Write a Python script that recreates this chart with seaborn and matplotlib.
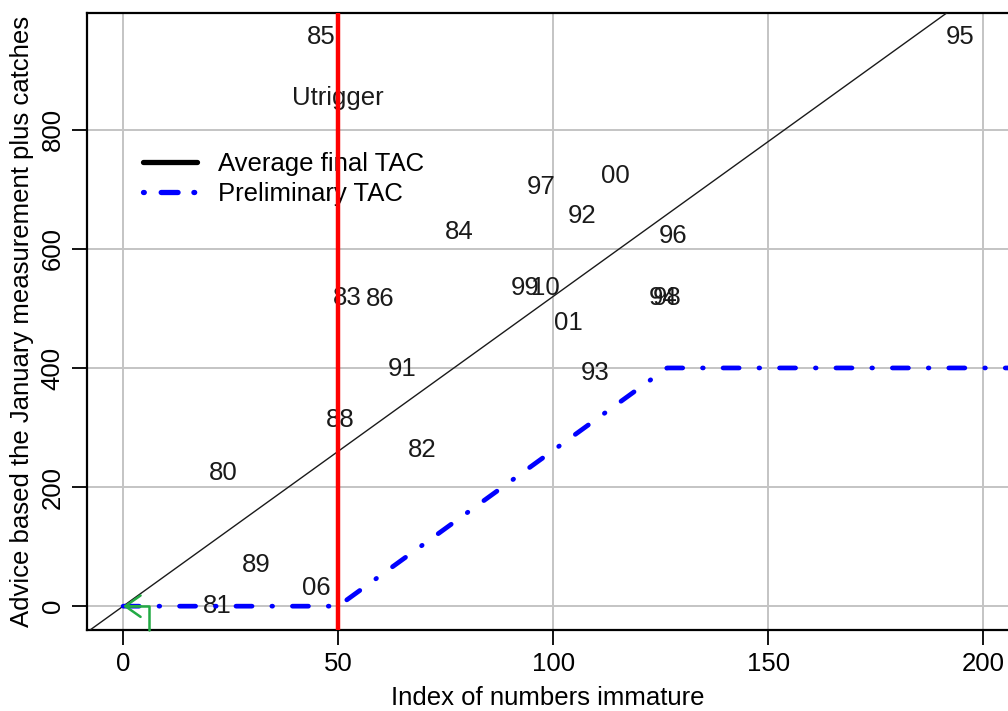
import matplotlib
matplotlib.use("Agg")
import matplotlib.pyplot as plt
import seaborn as sns
import pandas as pd
from matplotlib.lines import Line2D

# ---- data ----
year_labels = ["85", "80", "89", "81", "06", "88", "82", "91", "83", "86", "84",
               "97", "00", "92", "96", "99", "10", "01", "93", "94", "98", "95"]
index_immature = [46.0, 23.3, 30.9, 21.9, 44.9, 50.5, 69.5, 64.9, 52.1, 59.8, 78.1,
                  97.2, 114.4, 106.7, 127.9, 93.4, 98.2, 103.5, 109.8, 125.6, 126.6, 194.7]
advice = [956, 224, 69, 0, 30, 313, 262, 398, 518, 516, 629,
          703, 723, 655, 622, 534, 534, 476, 392, 518, 517, 956]

final_tac_x = [-10, 200]
final_tac_y = [-52, 1040]

prelim_tac_x = [0, 50, 126.5, 210]
prelim_tac_y = [0, 0, 400, 400]

u_trigger = 50
x_ticks = [0, 50, 100, 150, 200]
y_ticks = [0, 200, 400, 600, 800]

FS = 18.5

sns.set_style("white")
plt.rcParams["font.family"] = ["Liberation Sans", "DejaVu Sans"]
plt.rcParams["text.color"] = "black"
plt.rcParams["axes.labelcolor"] = "black"
plt.rcParams["xtick.color"] = "black"
plt.rcParams["ytick.color"] = "black"

fig = plt.figure(figsize=(10.08, 7.11), dpi=100)
ax = fig.add_axes([87 / 1008, 81 / 711, 1 - 87 / 1008, (630 - 13) / 711])

ax.set_xlim(-8.4, 205.8)
ax.set_ylim(-40, 996)

# grid
for xv in x_ticks:
    ax.axvline(xv, color="#c4c4c4", lw=1.4, zorder=0)
for yv in y_ticks:
    ax.axhline(yv, color="#c4c4c4", lw=1.4, zorder=0)

# year labels
for lab, xv, yv in zip(year_labels, index_immature, advice):
    ax.text(xv, yv, lab, ha="center", va="center", fontsize=FS, color="#1a1a1a", zorder=2)
ax.text(50, 854, "Utrigger", ha="center", va="center", fontsize=FS, color="#1a1a1a", zorder=2)

# lines
df_final = pd.DataFrame({"x": final_tac_x, "y": final_tac_y})
sns.lineplot(data=df_final, x="x", y="y", ax=ax, color="#1a1a1a", lw=1.0,
             estimator=None, sort=False, zorder=3)

df_pre = pd.DataFrame({"x": prelim_tac_x, "y": prelim_tac_y})
sns.lineplot(data=df_pre, x="x", y="y", ax=ax, color="#0000ff", lw=3.4,
             estimator=None, sort=False, zorder=4, dashes=False)
pre_line = ax.lines[-1]
pre_line.set_dashes((3.4, 4.2, 0.15, 4.2))
pre_line.set_dash_capstyle("round")

ax.axvline(u_trigger, color="#ff0000", lw=3.2, zorder=10)

# green arrow
ax.plot([6, 6, 0.4], [-40, 0, 0], color="#22aa44", lw=1.8, zorder=6, clip_on=False)
ax.annotate("", xy=(0, 0), xytext=(4, 0),
            arrowprops=dict(arrowstyle="->,head_length=0.5,head_width=0.35",
                            color="#22aa44", lw=1.8,
                            mutation_scale=22, shrinkA=0, shrinkB=0), zorder=6)

# legend
handles = [Line2D([0], [0], color="black", lw=3.8, solid_capstyle="round"),
           Line2D([0], [0], color="#0000ff", lw=3.8, dashes=(0.15, 3.2, 3.2, 3.0),
                  dash_capstyle="round")]
leg = ax.legend(handles, ["Average final TAC", "Preliminary TAC"], loc="upper left",
                bbox_to_anchor=(0.0608, 0.775), frameon=False, fontsize=FS,
                handlelength=2.1, handletextpad=0.8, labelspacing=0.23,
                borderpad=0, borderaxespad=0)
leg.set_zorder(5)

# axes styling
ax.set_xticks(x_ticks)
ax.set_yticks(y_ticks)
ax.set_xticklabels([str(v) for v in x_ticks], fontsize=FS)
ax.set_yticklabels([str(v) for v in y_ticks], fontsize=FS, rotation=90, va="center")
ax.tick_params(axis="both", direction="out", length=11, width=1.3, color="black",
               left=True, bottom=True, pad=5, labelcolor="black")
ax.set_xlabel("Index of numbers immature", fontsize=FS, labelpad=7, color="black")
ax.set_ylabel("Advice based the January measurement plus catches", fontsize=FS,
              labelpad=5, color="black")
for s in ["left", "top", "bottom"]:
    ax.spines[s].set_visible(True)
    ax.spines[s].set_color("black")
    ax.spines[s].set_linewidth(1.6)
ax.spines["right"].set_visible(False)

fig.savefig("out.png", dpi=100)
